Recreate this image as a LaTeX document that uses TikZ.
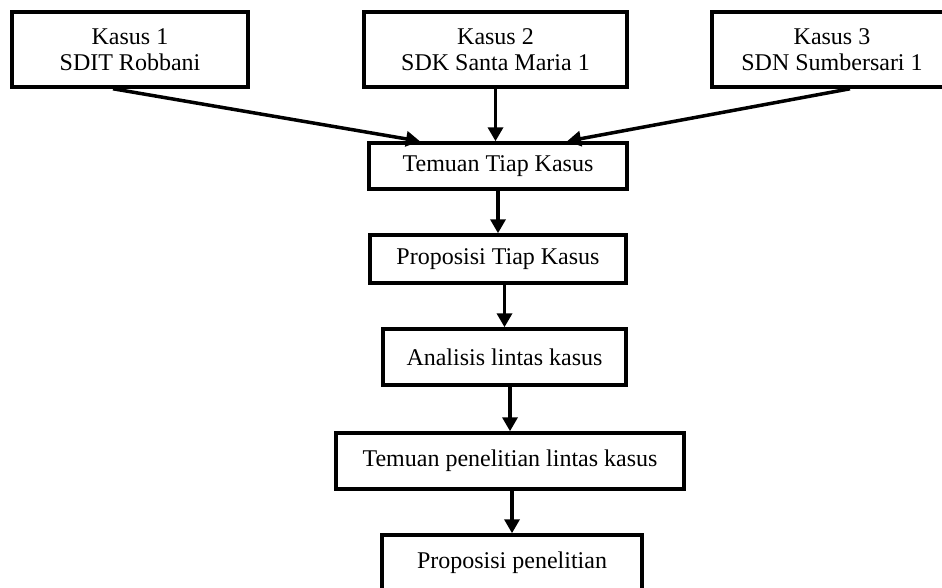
\documentclass[tikz,border=0pt]{standalone}
\usepackage{fontspec}
\setmainfont{Liberation Serif}
\usetikzlibrary{arrows.meta}

\begin{document}
\begin{tikzpicture}[x=1pt, y=-1pt, line width=3.5pt,
    kotak/.style={draw, align=center, inner sep=0pt, font=\fontsize{24}{26}\selectfont},
    panah/.style={-{Triangle[length=14pt, width=15pt]}}]
\useasboundingbox (0,0) rectangle (942,587);
% tiga kasus
\node[kotak, minimum width=236pt, minimum height=75pt] (k1) at (130,49.5) {Kasus 1\\SDIT Robbani};
\node[kotak, minimum width=263pt, minimum height=75pt] (k2) at (495.5,49.5) {Kasus 2\\SDK Santa Maria 1};
\node[kotak, minimum width=240pt, minimum height=75pt] (k3) at (832,49.5) {Kasus 3\\SDN Sumbersari 1};
% alur
\node[kotak, minimum width=258pt, minimum height=46pt] (temuan) at (498,166) {Temuan Tiap Kasus};
\node[kotak, minimum width=256pt, minimum height=48pt] (proptiap) at (498,259) {Proposisi Tiap Kasus};
\node[kotak, minimum width=243pt, minimum height=56pt] (analisis) at (504.5,357) {Analisis lintas kasus};
\node[kotak, minimum width=348pt, minimum height=56pt] (temuanpen) at (510,461) {Temuan penelitian lintas kasus};
\node[kotak, minimum width=260pt, minimum height=56pt] (proppen) at (512,563) {Proposisi penelitian};
% panah
\draw[panah] ([xshift=-17pt]k1.south) -- ([xshift=-78pt]temuan.north);
\draw[panah] (k2.south) -- (k2.south |- temuan.north);
\draw[panah] ([xshift=18pt]k3.south) -- ([xshift=69pt]temuan.north);
\draw[panah] (proptiap.north |- temuan.south) -- (proptiap.north);
\draw[panah] (analisis.north |- proptiap.south) -- (analisis.north);
\draw[panah] (temuanpen.north |- analisis.south) -- (temuanpen.north);
\draw[panah] (proppen.north |- temuanpen.south) -- (proppen.north);
\end{tikzpicture}
\end{document}
